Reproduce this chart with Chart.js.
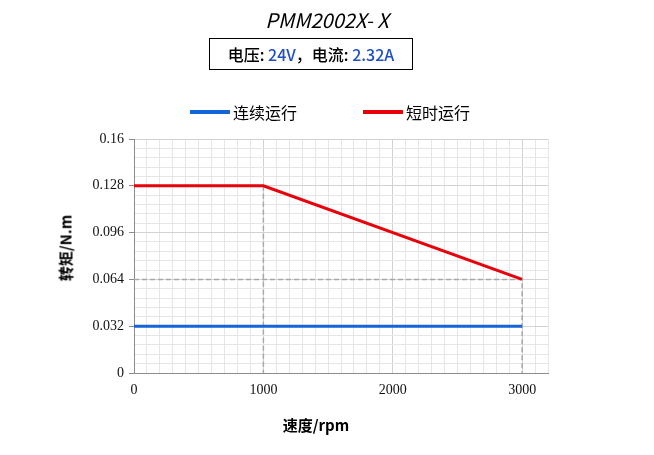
<!DOCTYPE html>
<html>
<head>
<meta charset="utf-8">
<script src="https://cdn.jsdelivr.net/npm/chart.js@4"></script>
<style>
  body { margin: 0; background: #fff; }
  #wrap { position: relative; width: 654px; height: 455px; font-family: "Noto Sans CJK SC", "Noto Sans", sans-serif; }
  #myChart { position: absolute; left: 0; top: 0; }
  .txt { position: absolute; white-space: nowrap; color: #111; }
  #title { left: 0; width: 654px; top: 5px; text-align: center; font-size: 20px; font-style: italic; color: #000; }
  #info { left: 209px; top: 38px; width: 202px; height: 30px; border: 1px solid #000; text-align: center; font-size: 16px; font-weight: 500; line-height: 30px; color: #000; }
  #info b { font-weight: 500; color: #1f4fc0; }
  #legend { left: 190px; top: 100px; font-size: 16px; display: flex; color: #000; }
  .item { display: flex; align-items: center; margin-right: 66px; }
  .line { width: 40px; height: 4px; margin-right: 3px; }
  #ytitle { left: 65px; top: 248px; font-size: 15px; font-weight: bold; transform: translate(-50%, -50%) rotate(-90deg); color: #000; }
  #xtitle { left: 316px; top: 424px; font-size: 15px; font-weight: bold; transform: translate(-50%, -50%); color: #000; }
</style>
</head>
<body>
<div id="wrap">
  <canvas id="myChart" width="654" height="455"></canvas>
  <div class="txt" id="title">PMM2002X- X</div>
  <div class="txt" id="info">电压: <b>24V</b>，电流: <b>2.32A</b></div>
  <div class="txt" id="legend"></div>
  <div class="txt" id="ytitle">转矩/N.m</div>
  <div class="txt" id="xtitle">速度/rpm</div>
</div>
<script>
// datos de la curva
const contSpeed = [0, 3000];
const contTorque = [0.032, 0.032];
const peakSpeed = [0, 1000, 3000];
const peakTorque = [0.128, 0.128, 0.064];
// lineas guia punteadas
const guideASpeed = [1000, 1000];
const guideATorque = [0.128, 0];
const guideBSpeed = [0, 3000, 3000];
const guideBTorque = [0.064, 0.064, 0];
// etiquetas de los ejes
const xTicks = [0, 1000, 2000, 3000];
const yTicks = [0, 0.032, 0.064, 0.096, 0.128, 0.16];

function puntos(xs, ys) {
  return xs.map((x, i) => ({ x: x, y: ys[i] }));
}
function esEtiqueta(lista, v) {
  return lista.find((t) => Math.abs(t - v) < 1e-9);
}

const datasets = [
  { label: "连续运行", data: puntos(contSpeed, contTorque), borderColor: "#1565d8", borderWidth: 3, pointRadius: 0, legend: true, order: 1 },
  { label: "短时运行", data: puntos(peakSpeed, peakTorque), borderColor: "#e8000b", borderWidth: 3, pointRadius: 0, legend: true, order: 1 },
  { label: "", data: puntos(guideASpeed, guideATorque), borderColor: "#a8a8a8", borderWidth: 1.5, borderDash: [5, 3], pointRadius: 0, order: 2 },
  { label: "", data: puntos(guideBSpeed, guideBTorque), borderColor: "#a8a8a8", borderWidth: 1.5, borderDash: [5, 3], pointRadius: 0, order: 2 },
];

const tickFont = { family: "'Liberation Serif', 'DejaVu Serif', serif", size: 14 };

const config = {
  type: "line",
  data: { datasets },
  options: {
    responsive: false,
    animation: false,
    layout: { padding: { left: 0, top: 139, right: 106, bottom: 0 } },
    plugins: { legend: { display: false }, tooltip: { enabled: false } },
    scales: {
      x: {
        type: "linear",
        min: 0,
        max: 3200,
        afterBuildTicks: (scale) => {
          const t = [];
          for (let v = 0; v <= 3200; v += 100) t.push({ value: v });
          scale.ticks = t;
        },
        afterFit: (scale) => { scale.height = 82; },
        ticks: {
          font: tickFont,
          color: "#111",
          padding: 3,
          maxRotation: 0,
          autoSkip: false,
          callback: (v) => { const t = esEtiqueta(xTicks, v); return t === undefined ? "" : String(t); },
        },
        grid: {
          color: (ctx) => (esEtiqueta(xTicks, ctx.tick.value) !== undefined ? "#d2d2d2" : "#e6e6e6"),
          tickColor: "transparent",
          tickLength: 6,
        },
        border: { color: "#8c8c8c", width: 1 },
      },
      y: {
        min: 0,
        max: 0.16,
        afterBuildTicks: (scale) => {
          const t = [];
          for (let i = 0; i <= 25; i++) t.push({ value: i * 0.0064 });
          scale.ticks = t;
        },
        afterFit: (scale) => { scale.width = 134; },
        ticks: {
          font: tickFont,
          color: "#111",
          padding: 5,
          autoSkip: false,
          callback: (v) => { const t = esEtiqueta(yTicks, v); return t === undefined ? "" : String(t); },
        },
        grid: {
          color: (ctx) => (esEtiqueta(yTicks, ctx.tick.value) !== undefined ? "#d2d2d2" : "#e6e6e6"),
          tickColor: (ctx) => (esEtiqueta(yTicks, ctx.tick.value) !== undefined ? "#8c8c8c" : "transparent"),
          tickLength: 5,
        },
        border: { color: "#8c8c8c", width: 1 },
      },
    },
  },
};

const myChart = new Chart(document.getElementById("myChart"), config);

// leyenda en html con los datos del grafico
const legend = document.getElementById("legend");
myChart.data.datasets.filter((d) => d.legend).forEach((d) => {
  const item = document.createElement("div");
  item.className = "item";
  item.innerHTML = '<span class="line" style="background:' + d.borderColor + '"></span>' + d.label;
  legend.appendChild(item);
});
</script>
</body>
</html>
